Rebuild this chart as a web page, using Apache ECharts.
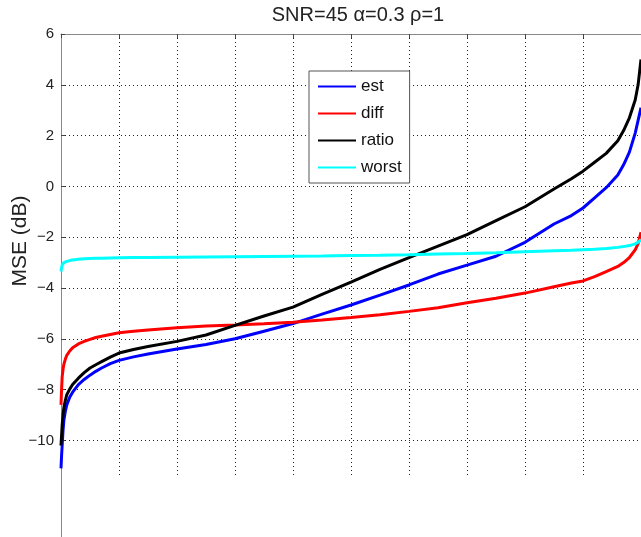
<!DOCTYPE html>
<html>
<head>
<meta charset="utf-8">
<script src="https://cdn.jsdelivr.net/npm/echarts@6/dist/echarts.min.js"></script>
<style>
  html, body { margin: 0; padding: 0; background: #fff; }
  #map { width: 641px; height: 537px; }
</style>
</head>
<body>
<div id="map"></div>
<script>
// sorted trial index (percent of trials)
const xs = [0, 0.1, 0.2, 0.35, 0.5, 0.75, 1, 1.5, 2, 3, 4, 5, 6, 7, 8.5, 10, 12.5, 15, 20, 25, 30, 35, 40, 45, 50, 55, 60, 65, 70, 75, 80, 85, 88, 90, 92, 94, 96, 97, 98, 99, 99.5, 100]

const est = [-11.1, -10.6, -10.2, -9.6, -9.2, -8.85, -8.6, -8.3, -8.1, -7.8, -7.6, -7.43, -7.28, -7.15, -6.98, -6.85, -6.71, -6.6, -6.4, -6.22, -6.0, -5.7, -5.4, -5.03, -4.67, -4.28, -3.88, -3.45, -3.1, -2.75, -2.2, -1.48, -1.15, -0.85, -0.45, -0.05, 0.45, 0.85, 1.35, 2.1, 2.6, 3.1]
const diff = [-8.6, -8.0, -7.5, -7.2, -7.0, -6.8, -6.65, -6.48, -6.35, -6.2, -6.1, -6.02, -5.95, -5.9, -5.83, -5.76, -5.7, -5.65, -5.56, -5.5, -5.46, -5.41, -5.35, -5.26, -5.16, -5.05, -4.92, -4.78, -4.58, -4.4, -4.2, -3.95, -3.8, -3.72, -3.55, -3.35, -3.15, -3.0, -2.8, -2.5, -2.25, -1.8]
const ratio = [-10.2, -9.8, -9.4, -9.0, -8.7, -8.42, -8.2, -7.98, -7.8, -7.55, -7.33, -7.15, -7.02, -6.9, -6.72, -6.56, -6.42, -6.3, -6.1, -5.85, -5.47, -5.1, -4.75, -4.25, -3.77, -3.27, -2.8, -2.35, -1.9, -1.35, -0.8, -0.1, 0.3, 0.6, 0.95, 1.3, 1.8, 2.2, 2.7, 3.4, 4.0, 5.0]
const worst = [-3.35, -3.2, -3.1, -3.04, -3.0, -2.97, -2.95, -2.92, -2.9, -2.87, -2.85, -2.84, -2.83, -2.83, -2.82, -2.81, -2.8, -2.8, -2.79, -2.78, -2.77, -2.76, -2.75, -2.74, -2.72, -2.71, -2.69, -2.66, -2.64, -2.61, -2.57, -2.53, -2.51, -2.49, -2.47, -2.44, -2.4, -2.37, -2.33, -2.26, -2.2, -2.1]

const yTicks = [-10, -8, -6, -4, -2, 0, 2, 4, 6]

const names = ['est', 'diff', 'ratio', 'worst']
const colors = ['#0000ff', '#ff0000', '#000000', '#00ffff']
const values = [est, diff, ratio, worst]

const font = 'Liberation Sans'

let myChart = echarts.init(document.querySelector('#map'))

myChart.setOption({
  animation: false,
  title: {
    text: 'SNR=45 α=0.3 ρ=1',
    left: 353,
    top: 0,
    textAlign: 'center',
    textStyle: { fontFamily: font, fontSize: 20, fontWeight: 'normal', color: '#222' },
  },
  legend: {
    data: names,
    orient: 'vertical',
    left: 309,
    top: 71,
    padding: [7, 8, 7, 8],
    itemWidth: 38,
    itemHeight: 14,
    itemGap: 10,
    backgroundColor: '#fff',
    borderColor: '#555',
    borderWidth: 1,
    borderRadius: 0,
    itemStyle: { opacity: 0 },
    textStyle: { fontFamily: font, fontSize: 17, color: '#111' },
  },
  grid: [
    { left: 61, top: 34, width: 580, height: 443 },
    { left: 61, top: 477, width: 580, height: 80 },
  ],
  xAxis: [
    {
      gridIndex: 0,
      type: 'value',
      min: 0,
      max: 100,
      interval: 10,
      axisLine: { show: false },
      axisTick: { show: false },
      axisLabel: { show: false },
      splitLine: { show: true, lineStyle: { color: '#222', type: [1, 3], width: 1 } },
    },
    {
      gridIndex: 0,
      type: 'value',
      position: 'top',
      min: 0,
      max: 100,
      interval: 10,
      axisLine: { show: true, onZero: false, lineStyle: { color: '#888', width: 1 } },
      axisTick: { show: true, inside: true, length: 4, lineStyle: { color: '#444' } },
      axisLabel: { show: false },
      splitLine: { show: false },
    },
    { gridIndex: 1, type: 'value', min: 0, max: 100, show: false },
  ],
  yAxis: [
    {
      gridIndex: 0,
      type: 'value',
      min: -11.44,
      max: 6,
      axisLine: { show: true, onZero: false, lineStyle: { color: '#888', width: 1 } },
      axisTick: { show: true, inside: true, length: 4, customValues: yTicks, lineStyle: { color: '#444' } },
      axisLabel: {
        customValues: yTicks,
        margin: 7,
        fontFamily: font,
        fontSize: 15,
        color: '#222',
        formatter: (v) => String(v).replace('-', '\u2212'),
      },
      splitLine: { show: true, lineStyle: { color: '#222', type: [1, 3], width: 1 } },
    },
    {
      gridIndex: 1,
      type: 'value',
      min: 0,
      max: 1,
      axisLine: { show: true, lineStyle: { color: '#888', width: 1 } },
      axisTick: { show: false },
      axisLabel: { show: false },
      splitLine: { show: false },
    },
  ],
  graphic: [
    {
      type: 'text',
      x: 20,
      y: 241,
      rotation: Math.PI / 2,
      style: {
        text: 'MSE (dB)',
        font: '21px Liberation Sans',
        fill: '#222',
        align: 'center',
        verticalAlign: 'middle',
      },
    },
  ],
  series: names.map((name, i) => ({
    name: name,
    type: 'line',
    xAxisIndex: 0,
    yAxisIndex: 0,
    data: xs.map((x, j) => [x, values[i][j]]),
    symbol: 'none',
    showSymbol: false,
    color: colors[i],
    lineStyle: { color: colors[i], width: 3 },
  })),
})
</script>
</body>
</html>
